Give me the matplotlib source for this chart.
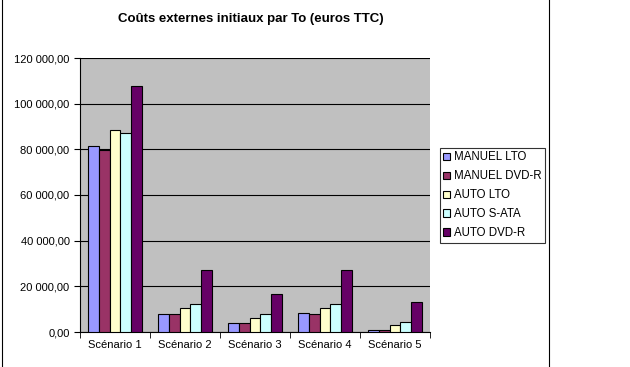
import numpy as np
import matplotlib.pyplot as plt
from matplotlib.lines import Line2D
from matplotlib.ticker import FuncFormatter

plt.rcParams['font.family'] = ['Liberation Sans', 'DejaVu Sans']

# Data
scenarios = ["Scénario 1", "Scénario 2", "Scénario 3", "Scénario 4", "Scénario 5"]
series = ["MANUEL LTO", "MANUEL DVD-R", "AUTO LTO", "AUTO S-ATA", "AUTO DVD-R"]
manuel_lto = [81500, 8000, 4000, 8200, 850]
manuel_dvdr = [79500, 7700, 4000, 7700, 700]
auto_lto = [88500, 10500, 6100, 10400, 2900]
auto_sata = [87200, 12200, 8000, 12200, 4300]
auto_dvdr = [107800, 27000, 16500, 27000, 13300]
values = [manuel_lto, manuel_dvdr, auto_lto, auto_sata, auto_dvdr]
colors = ["#9999FF", "#993366", "#FFFFCC", "#CCFFFF", "#660066"]

fig = plt.figure(figsize=(6.3, 3.67), dpi=100)
ax = fig.add_axes([80/630, 1 - 332/367, 350/630, 274/367])
ax.set_facecolor("#C0C0C0")

x = np.arange(len(scenarios))
w = 1 / 6.5
for i, (name, vals, c) in enumerate(zip(series, values, colors)):
    ax.bar(x + (i - 2) * w, vals, w, color=c, edgecolor="black", linewidth=0.8,
           label=name, zorder=3)

ax.set_xlim(-0.5, len(scenarios) - 0.5)
ax.set_ylim(0, 120000)
ax.set_yticks(np.arange(0, 120001, 20000))
ax.yaxis.set_major_formatter(FuncFormatter(
    lambda v, p: "{:,.2f}".format(v).replace(",", " ").replace(".", ",")))
ax.grid(axis="y", color="black", linewidth=0.8, zorder=1)
ax.set_xticks(x)
ax.set_xticklabels(scenarios)
ax.set_xticks(np.arange(-0.5, len(scenarios)), minor=True)
ax.tick_params(axis="x", which="major", length=0, labelsize=8, pad=6)
ax.tick_params(axis="x", which="minor", length=4, direction="out")
ax.tick_params(axis="y", length=4, labelsize=8)
for s in ["top", "right"]:
    ax.spines[s].set_visible(False)

fig.text(251/630, 1 - 19/367, "Coûts externes initiaux par To (euros TTC)",
         ha="center", va="center", fontsize=9.5, fontweight="bold")

leg = ax.legend(loc="upper left", bbox_to_anchor=(440/630, 1 - 148/367),
                bbox_transform=fig.transFigure, fontsize=8.3, frameon=True,
                fancybox=False, edgecolor="black", handlelength=0.6,
                handleheight=0.6, handletextpad=0.3, borderpad=0.3,
                labelspacing=0.6, borderaxespad=0)
leg.get_frame().set_linewidth(0.8)

# chart border
fig.add_artist(Line2D([2/630, 2/630], [0, 1], color="black", linewidth=0.8))
fig.add_artist(Line2D([549/630, 549/630], [0, 1], color="black", linewidth=0.8))

fig.savefig("out.png", dpi=100)
